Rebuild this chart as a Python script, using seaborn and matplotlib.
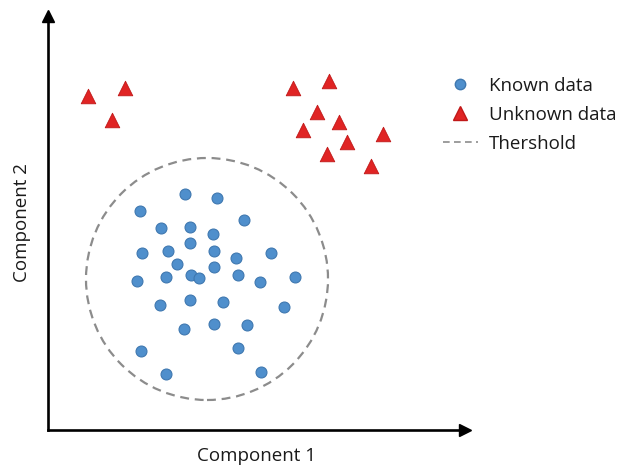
import numpy as np
import pandas as pd
import matplotlib
matplotlib.use('Agg')
import matplotlib.pyplot as plt
import seaborn as sns
from matplotlib.lines import Line2D
from matplotlib.patches import Circle

# Known data (blue points)
known_x = [13.7, 16.9, 9.2, 19.6, 11.3, 14.2, 16.5, 14.2, 9.4, 12.0, 16.6,
           18.8, 22.3, 12.9, 16.6, 8.9, 11.8, 14.3, 15.1, 19.0, 21.2, 24.7,
           11.2, 14.2, 17.5, 23.6, 13.6, 16.6, 19.9, 9.3, 19.0, 11.8, 21.3]
known_y = [23.6, 23.2, 21.9, 21.0, 20.2, 20.3, 19.6, 18.7, 17.7, 17.9, 17.9,
           17.2, 17.7, 16.6, 16.3, 14.9, 15.3, 15.5, 15.2, 15.5, 14.8, 15.3,
           12.5, 13.0, 12.8, 12.3, 10.1, 10.6, 10.5, 7.9, 8.2, 5.6, 5.8]

# Unknown data (red triangles)
unknown_x = [4.0, 7.7, 6.4, 24.5, 28.1, 26.9, 29.1, 25.5, 33.5, 29.9, 27.9, 32.3]
unknown_y = [33.4, 34.2, 31.0, 34.2, 34.9, 31.8, 30.8, 30.0, 29.6, 28.8, 27.6, 26.4]

# Threshold circle
thr_center = (15.9, 15.1)
thr_radius = 12.1

df = pd.DataFrame({
    'c1': known_x + unknown_x,
    'c2': known_y + unknown_y,
    'grupo': ['Known data'] * len(known_x) + ['Unknown data'] * len(unknown_x),
})

sns.set_style('white')
plt.rcParams['font.family'] = ['Open Sans', 'DejaVu Sans']

fig = plt.figure(figsize=(6.18, 4.65), dpi=100)
ax = fig.add_axes([48 / 618, 35 / 465, 417 / 618, 414 / 465])

blue = '#4f8fcc'
red = '#e02424'
sns.scatterplot(data=df[df.grupo == 'Known data'], x='c1', y='c2', ax=ax,
                color=blue, edgecolor='#3f78b0', linewidth=0.8, s=62,
                marker='o', legend=False, zorder=3)
sns.scatterplot(data=df[df.grupo == 'Unknown data'], x='c1', y='c2', ax=ax,
                color=red, edgecolor='#c01818', linewidth=0.6, s=110,
                marker='^', legend=False, zorder=3)

ax.add_patch(Circle(thr_center, thr_radius, fill=False, edgecolor='#8c8c8c',
                    lw=1.6, linestyle=(0, (4, 2.6)), zorder=2))

ax.set_xlim(0, 41.7)
ax.set_ylim(0, 41.4)
ax.set_xticks([])
ax.set_yticks([])
for s in ['top', 'right']:
    ax.spines[s].set_visible(False)
for s in ['left', 'bottom']:
    ax.spines[s].set_color('black')
    ax.spines[s].set_linewidth(1.9)

# arrow heads
ax.plot(1, 0, '>k', markersize=8, transform=ax.transAxes, clip_on=False)
ax.plot(0, 1, '^k', markersize=8, transform=ax.transAxes, clip_on=False)

ax.set_xlabel('Component 1', fontsize=13.5, color='#1a1a1a', labelpad=12)
ax.set_ylabel('Component 2', fontsize=13.5, color='#1a1a1a', labelpad=12)

handles = [
    Line2D([], [], marker='o', color='none', markerfacecolor=blue,
           markeredgecolor='#3f78b0', markersize=7.5),
    Line2D([], [], marker='^', color='none', markerfacecolor=red,
           markeredgecolor='#c01818', markersize=10),
    Line2D([], [], color='#8c8c8c', lw=1.2, linestyle=(0, (4, 2.6))),
]
fig.legend(handles, ['Known data', 'Unknown data', 'Thershold'],
           loc='upper left', bbox_to_anchor=(443 / 618, 1 - 77 / 465),
           frameon=False, fontsize=13.5, borderpad=0, borderaxespad=0,
           handlelength=1.85, handletextpad=0.6, labelspacing=0.58,
           labelcolor='#1a1a1a')

fig.savefig('out.png', dpi=100)
